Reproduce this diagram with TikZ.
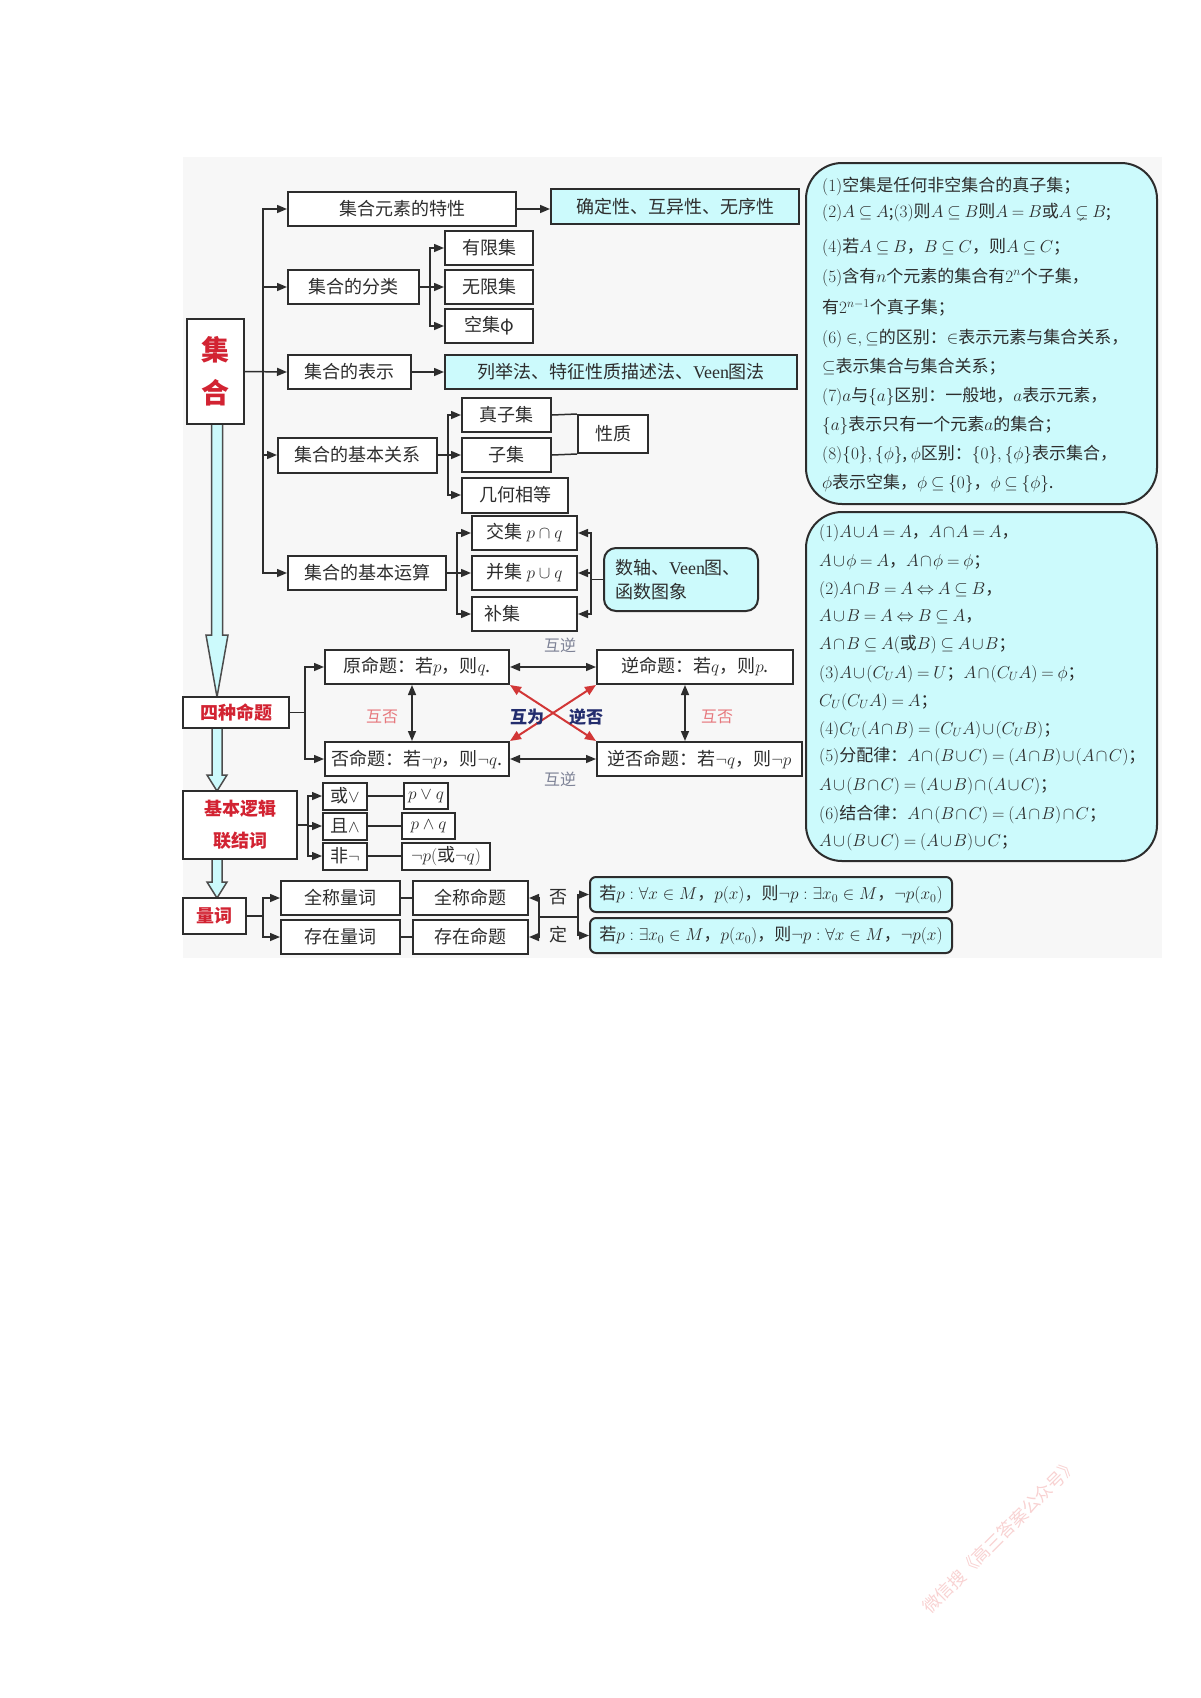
\documentclass[tikz,border=0pt]{standalone}
\usepackage{amsmath,amssymb}
\usepackage[no-math]{fontspec}
\setmainfont{Noto Sans CJK SC}
\newfontfamily\latf{Liberation Serif}
\usetikzlibrary{arrows.meta}
\definecolor{bdr}{RGB}{45,45,45}
\definecolor{cyanf}{RGB}{204,250,252}
\definecolor{tred}{RGB}{210,35,50}
\definecolor{navyc}{RGB}{35,45,110}
\definecolor{pinkl}{RGB}{230,120,125}
\definecolor{grayl}{RGB}{125,130,150}
\definecolor{redarr}{RGB}{210,55,55}
\definecolor{txt}{RGB}{45,45,45}
\definecolor{wmc}{RGB}{248,210,210}
\definecolor{bgc}{RGB}{247,247,247}
\newcommand\bxf{\fontsize{18}{22}\selectfont}
\newcommand\rtf{\fontsize{17}{20}\selectfont\medmuskip=1.5mu\thickmuskip=4mu}
\newcommand\lbf{\fontsize{16}{19}\selectfont}
\begin{document}
\begin{tikzpicture}[x=1pt,y=-1pt,
  sz/.style 2 args={minimum width=#1pt,minimum height=#2pt},
  bx/.style={draw=bdr,line width=2pt,fill=white,inner sep=0pt,text=txt,font=\bxf},
  cbx/.style={bx,fill=cyanf},
  ttl/.style={bx,text=tred,font=\bxf\bfseries},
  rt/.style={inner sep=0pt,text=txt,font=\rtf,anchor=west},
  arr/.style={draw=bdr,line width=1.5pt,-{Triangle[length=10pt,width=8pt]}},
  darr/.style={draw=bdr,line width=1.5pt,{Triangle[length=10pt,width=8pt]}-{Triangle[length=10pt,width=8pt]}},
  rarr/.style={draw=redarr,line width=2pt,{Triangle[length=11pt,width=9pt]}-{Triangle[length=11pt,width=9pt]}},
  ln/.style={draw=bdr,line width=1.5pt},
  bigarr/.style={draw=bdr!85,line width=1.5pt,fill=cyanf},
  glab/.style={inner sep=0pt,text=grayl,font=\lbf},
  plab/.style={inner sep=0pt,text=pinkl,font=\lbf},
  nlab/.style={inner sep=0pt,text=navyc,font=\fontsize{17}{20}\selectfont\bfseries}]
\useasboundingbox (0,0) rectangle (1200,1698);
\fill[bgc] (183,157) rectangle (1162,958);

% big cyan arrows
\draw[bigarr] (211.5,424) -- (211.5,635) -- (206,635) -- (217,697) -- (228,635) -- (222.5,635) -- (222.5,424);
\draw[bigarr] (212,728) -- (212,775) -- (207,775) -- (217,791) -- (227,775) -- (222,775) -- (222,728);
\draw[bigarr] (212,859) -- (212,882) -- (207,882) -- (217,898) -- (227,882) -- (222,882) -- (222,859);

% set part
\node[ttl,sz={57}{105},align=center,font=\fontsize{28}{43}\selectfont\bfseries] (jh) at (215.5,371.5) {集\\合};
\node[bx,sz={228}{34}] (c1) at (402,209) {集合元素的特性};
\node[cbx,sz={248}{35}] (d1) at (675,206.5) {确定性、互异性、无序性};
\node[bx,sz={131}{34}] (c2) at (353.5,287) {集合的分类};
\node[bx,sz={88}{34}] (y1) at (489,248) {有限集};
\node[bx,sz={88}{34}] (y2) at (489,287) {无限集};
\node[bx,sz={88}{34}] (y3) at (489,326) {空集φ};
\node[bx,sz={123}{34}] (c3) at (349.5,372) {集合的表示};
\node[cbx,sz={352}{34}] (d3) at (621,372) {列举法、特征性质描述法、{\latf Veen}图法};
\node[bx,sz={159}{35}] (c4) at (357.5,455) {集合的基本关系};
\node[bx,sz={89}{34}] (z1) at (506.5,415) {真子集};
\node[bx,sz={89}{34}] (z2) at (506.5,455) {子集};
\node[bx,sz={106}{35}] (z3) at (515,495) {几何相等};
\node[bx,sz={70}{38}] (xz) at (613,434) {性质};
\node[bx,sz={158}{34}] (c5) at (367,573) {集合的基本运算};
\node[bx,sz={105}{34}] (o1) at (524.5,533) {交集\ $p\cap q$};
\node[bx,sz={105}{34}] (o2) at (524.5,573) {并集\ $p\cup q$};
\node[bx,sz={105}{34},text width=81pt,align=left] (o3) at (524.5,614) {补集};
\node[cbx,sz={154}{63},rounded corners=12pt,align=left,text width=132pt,font=\fontsize{18}{24}\selectfont] (szb) at (681,579.5) {数轴、{\latf Veen}图、\\函数图象};

\draw[arr] (jh.east) -- ++(18,0) |- (c1.west);
\draw[arr] (jh.east) -- ++(18,0) |- (c2.west);
\draw[arr] (jh.east) -- (c3.west);
\draw[arr] (jh.east) -- ++(18,0) |- (c4.west);
\draw[arr] (jh.east) -- ++(18,0) |- (c5.west);
\draw[arr] (c1.east) -- (c1.east -| d1.west);
\draw[arr] (c3.east) -- (c3.east -| d3.west);
\draw[arr] (c2.east) -- ++(10,0) |- (y1.west);
\draw[arr] (c2.east) -- ++(10,0) |- (y2.west);
\draw[arr] (c2.east) -- ++(10,0) |- (y3.west);
\draw[arr] (c4.east) -- ++(10,0) |- (z1.west);
\draw[arr] (c4.east) -- ++(10,0) |- (z2.west);
\draw[arr] (c4.east) -- ++(10,0) |- (z3.west);
\draw[ln] (z1.east) -- (xz.north west);
\draw[ln] (z2.east) -- (xz.south west);
\draw[arr] (c5.east) -- ++(10,0) |- (o1.west);
\draw[arr] (c5.east) -- ++(10,0) |- (o2.west);
\draw[arr] (c5.east) -- ++(10,0) |- (o3.west);
\draw[arr] (szb.west) -- ++(-12,0) |- (o1.east);
\draw[arr] (szb.west) -- ++(-12,0) |- (o2.east);
\draw[arr] (szb.west) -- ++(-12,0) |- (o3.east);

% right boxes
\node[draw=bdr,line width=2pt,fill=cyanf,rounded corners=36pt,sz={351}{341}] (R1) at (981.5,333.5) {};
\node[draw=bdr,line width=2pt,fill=cyanf,rounded corners=36pt,sz={351}{349}] (R2) at (981.5,686.5) {};
\node[rt] (a1) at (822,186) {$(1)$空集是任何非空集合的真子集；};
\node[rt] (a2) at (822,213) {$(2)A\subseteq A$;$(3)$则$A\subseteq B$则$A=B$或$A\subsetneq B$;};
\node[rt] (a3) at (822,248) {$(4)$若$A\subseteq B$，$B\subseteq C$，则$A\subseteq C$；};
\node[rt] (a4) at (822,277) {$(5)$含有$n$个元素的集合有$2^n$个子集，};
\node[rt] (a5) at (822,308) {有$2^{n-1}$个真子集；};
\node[rt] (a6) at (822,338) {$(6)\in,\subseteq$的区别：$\in$表示元素与集合关系，};
\node[rt] (a7) at (822,367) {$\subseteq$表示集合与集合关系；};
\node[rt] (a8) at (822,396) {$(7)a$与$\{a\}$区别：一般地，$a$表示元素，};
\node[rt] (a9) at (822,425) {$\{a\}$表示只有一个元素$a$的集合；};
\node[rt] (a10) at (822,454) {$(8)\{0\},\{\phi\}$, $\phi$区别：$\{0\},\{\phi\}$表示集合，};
\node[rt] (a11) at (822,483) {$\phi$表示空集，$\phi\subseteq\{0\}$，$\phi\subseteq\{\phi\}$.};
\node[rt] (b1) at (819,533) {$(1)A\cup A=A$，$A\cap A=A$，};
\node[rt] (b2) at (819,562) {$A\cup\phi=A$，$A\cap\phi=\phi$；};
\node[rt] (b3) at (819,590) {$(2)A\cap B=A\Leftrightarrow A\subseteq B$，};
\node[rt] (b4) at (819,617) {$A\cup B=A\Leftrightarrow B\subseteq A$，};
\node[rt] (b5) at (819,645) {$A\cap B\subseteq A($或$B)\subseteq A\cup B$；};
\node[rt] (b6) at (819,674) {$(3)A\cup(C_UA)=U$；$A\cap(C_UA)=\phi$；};
\node[rt] (b7) at (819,702) {$C_U(C_UA)=A$；};
\node[rt] (b8) at (819,730) {$(4)C_U(A\cap B)=(C_UA)\cup(C_UB)$；};
\node[rt] (b9) at (819,757) {$(5)$分配律：$A\cap(B\cup C)=(A\cap B)\cup(A\cap C)$；};
\node[rt] (b10) at (819,786) {$A\cup(B\cap C)=(A\cup B)\cap(A\cup C)$；};
\node[rt] (b11) at (819,814) {$(6)$结合律：$A\cap(B\cap C)=(A\cap B)\cap C$；};
\node[rt] (b12) at (819,842) {$A\cup(B\cup C)=(A\cup B)\cup C$；};

% propositions
\node[ttl,sz={106}{31}] (sm) at (236,712.5) {四种命题};
\node[bx,sz={184}{34}] (p1) at (417,667) {原命题：若$p$，则$q$.};
\node[bx,sz={196}{34}] (p2) at (695,667) {逆命题：若$q$，则$p$.};
\node[bx,sz={184}{34}] (p3) at (417,759) {否命题：若$\neg p$，则$\neg q$.};
\node[bx,sz={205}{34}] (p4) at (699.5,759) {逆否命题：若$\neg q$，则$\neg p$};
\draw[arr] (sm.east) -- ++(15,0) |- (p1.west);
\draw[arr] (sm.east) -- ++(15,0) |- (p3.west);
\draw[darr] (p1.east) -- (p2.west);
\draw[darr] (p3.east) -- (p4.west);
\draw[darr] ([xshift=-5pt]p1.south) -- ([xshift=-5pt]p3.north);
\draw[darr] ([xshift=-10pt]p2.south) -- ([xshift=-14.5pt]p4.north);
\draw[rarr] (p1.south east) -- (p4.north west);
\draw[rarr] (p2.south west) -- (p3.north east);
\node[glab] (hn1) at (560,645) {互逆};
\node[glab] (hn2) at (560,779) {互逆};
\node[plab] (hf1) at (382,717) {互否};
\node[plab] (hf2) at (717,717) {互否};
\node[nlab] (hw1) at (527,717) {互为};
\node[nlab] (hw2) at (586,717) {逆否};

% logic connectives
\node[ttl,sz={114}{68},align=center,font=\fontsize{18}{32}\selectfont\bfseries] (lj) at (240,825) {基本逻辑\\联结词};
\node[bx,sz={44}{27}] (s1) at (345,796) {或$\vee$};
\node[bx,sz={44}{27}] (s2) at (345,826) {且$\wedge$};
\node[bx,sz={44}{27}] (s3) at (345,856) {非$\neg$};
\node[bx,sz={44}{26}] (r1) at (426,796) {$p\vee q$};
\node[bx,sz={53}{26}] (r2) at (428.5,826) {$p\wedge q$};
\node[bx,sz={88}{27}] (r3) at (446,856) {$\neg p($或$\neg q)$};
\draw[arr] (lj.east) -- ++(10,0) |- (s1.west);
\draw[arr] (lj.east) -- ++(10,0) |- (s2.west);
\draw[arr] (lj.east) -- ++(10,0) |- (s3.west);
\draw[ln] (s1.east) -- (r1.west);
\draw[ln] (s2.east) -- (r2.west);
\draw[ln] (s3.east) -- (r3.west);

% quantifiers
\node[ttl,sz={63}{36}] (lc) at (214.5,916) {量词};
\node[bx,sz={119}{34}] (q1) at (340.5,898) {全称量词};
\node[bx,sz={119}{34}] (q2) at (340.5,937) {存在量词};
\node[bx,sz={115}{34}] (m1) at (470.5,898) {全称命题};
\node[bx,sz={115}{34}] (m2) at (470.5,937) {存在命题};
\node[cbx,sz={362}{35},rounded corners=6pt,font=\fontsize{17}{20}\selectfont] (f1) at (771,894.5) {若$p:\forall x\in M$，$p(x)$，则$\neg p:\exists x_0\in M$，$\neg p(x_0)$};
\node[cbx,sz={362}{35},rounded corners=6pt,font=\fontsize{17}{20}\selectfont] (f2) at (771,935.5) {若$p:\exists x_0\in M$，$p(x_0)$，则$\neg p:\forall x\in M$，$\neg p(x)$};
\draw[arr] (lc.east) -- ++(16,0) |- (q1.west);
\draw[arr] (lc.east) -- ++(16,0) |- (q2.west);
\draw[ln] (q1.east) -- (m1.west);
\draw[ln] (q2.east) -- (m2.west);
\coordinate (nl) at (539,917);
\coordinate (nr) at (578,917);
\draw[ln] (nl) -- (nr);
\draw[arr] (nl) |- (m1.east);
\draw[arr] (nl) |- (m2.east);
\draw[arr] (nr) |- (f1.west);
\draw[arr] (nr) |- (f2.west);
\node[inner sep=0pt,text=txt,font=\bxf] (fo) at (558,897) {否};
\node[inner sep=0pt,text=txt,font=\bxf] (di) at (558,935) {定};

% watermark
\node[rotate=45,inner sep=0pt,text=wmc,font=\fontsize{17.5}{20}\selectfont] (wmk) at (1000,1536) {微信搜《高三答案公众号》};
\end{tikzpicture}
\end{document}
